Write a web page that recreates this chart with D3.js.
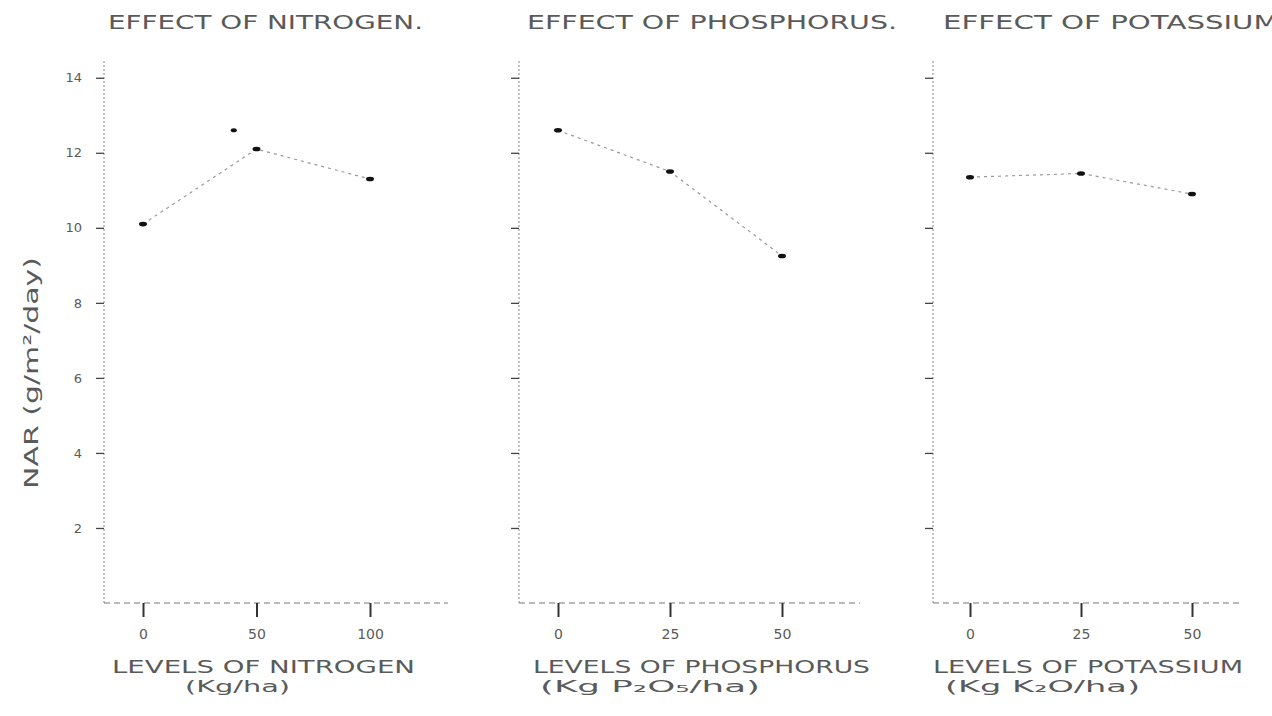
<!DOCTYPE html>
<html>
<head>
<meta charset="utf-8">
<script src="https://cdn.jsdelivr.net/npm/d3@7"></script>
<style>
  body { margin: 0; background: #fff; }
  svg { display: block; }
  text { font-family: "DejaVu Sans", sans-serif; fill: #5a5a5a; }
</style>
</head>
<body>
<div id="chart"></div>
<script>
// values
const nitrogenLevels = [0, 50, 100];
const nitrogenNAR = [10.1, 12.1, 11.3];
const nitrogenExtraLevel = [40];
const nitrogenExtraNAR = [12.6];
const phosphorusLevels = [0, 25, 50];
const phosphorusNAR = [12.6, 11.5, 9.25];
const potassiumLevels = [0, 25, 50];
const potassiumNAR = [11.35, 11.45, 10.9];
const yTicks = [2, 4, 6, 8, 10, 12, 14];
const panelTitles = ["EFFECT OF NITROGEN.", "EFFECT OF PHOSPHORUS.", "EFFECT OF POTASSIUM."];
const xTitles = ["LEVELS OF NITROGEN", "LEVELS OF PHOSPHORUS", "LEVELS OF POTASSIUM"];
const xUnits = ["(Kg/ha)", "(Kg P\u2082O\u2085/ha)", "(Kg K\u2082O/ha)"];

const width = 1272, height = 716;
const svg = d3.select("#chart").append("svg").attr("width", width).attr("height", height);

const y = d3.scaleLinear().domain([0, 14.5]).range([603, 59]);

// layout per panel: axis x, first/last level pixel, axis end, title box
const layout = [
  { axisX: 104, x0: 143, x1: 370, xEnd: 448, titleX: 108, titleW: 315, labelX: 112, labelW: 303, unitX: 185, unitW: 105, tickLabels: true },
  { axisX: 519, x0: 558, x1: 782, xEnd: 860, titleX: 527, titleW: 370, labelX: 533, labelW: 337, unitX: 540, unitW: 220, tickLabels: false },
  { axisX: 933, x0: 970, x1: 1192, xEnd: 1240, titleX: 943, titleW: 345, labelX: 933, labelW: 310, unitX: 945, unitW: 195, tickLabels: false }
];
const series = [
  { levels: nitrogenLevels, values: nitrogenNAR },
  { levels: phosphorusLevels, values: phosphorusNAR },
  { levels: potassiumLevels, values: potassiumNAR }
];

layout.forEach((L, i) => {
  const s = series[i];
  const x = d3.scalePoint().domain(s.levels).range([L.x0, L.x1]);
  const g = svg.append("g");

  // y axis
  const yAxis = g.append("g").attr("transform", `translate(${L.axisX},0)`)
    .call(d3.axisLeft(y).tickValues(yTicks).tickSize(8).tickPadding(14)
      .tickFormat(L.tickLabels ? d3.format("d") : () => ""));
  yAxis.select(".domain").attr("stroke", "#888").attr("stroke-dasharray", "2,2").attr("d", `M0,${y(0)}V${y.range()[1]}`);
  yAxis.selectAll(".tick line").attr("stroke", "#444").attr("stroke-width", 1.3);
  yAxis.selectAll(".tick text").style("font-size", "13px").style("fill", "#5a5a5a");

  // x axis
  const xAxis = g.append("g").attr("transform", `translate(0,${y(0)})`)
    .call(d3.axisBottom(x).tickSize(14).tickPadding(12));
  xAxis.select(".domain").attr("stroke", "#777").attr("stroke-dasharray", "6,4").attr("d", `M${L.axisX},0H${L.xEnd}`);
  xAxis.selectAll(".tick line").attr("stroke", "#333").attr("stroke-width", 2);
  xAxis.selectAll(".tick text").style("font-size", "14px").style("fill", "#5a5a5a");

  // data line and markers
  const line = d3.line().x((d, j) => x(s.levels[j])).y(d => y(d));
  g.append("path").datum(s.values).attr("d", line)
    .attr("fill", "none").attr("stroke", "#999").attr("stroke-width", 1.2).attr("stroke-dasharray", "3,4");
  g.selectAll(".pt").data(s.values).join("ellipse")
    .attr("cx", (d, j) => x(s.levels[j])).attr("cy", d => y(d))
    .attr("rx", 4).attr("ry", 2.3).attr("fill", "#111");

  if (i === 0) {
    const xl = d3.scaleLinear().domain([0, 100]).range([L.x0, L.x1]);
    g.selectAll(".extra").data(nitrogenExtraNAR).join("ellipse")
      .attr("cx", (d, j) => xl(nitrogenExtraLevel[j])).attr("cy", d => y(d))
      .attr("rx", 3).attr("ry", 2).attr("fill", "#111");
  }

  // titles
  g.append("text").attr("x", L.titleX).attr("y", 29)
    .attr("textLength", L.titleW).attr("lengthAdjust", "spacingAndGlyphs")
    .style("font-size", "19px").text(panelTitles[i]);
  g.append("text").attr("x", L.labelX).attr("y", 673)
    .attr("textLength", L.labelW).attr("lengthAdjust", "spacingAndGlyphs")
    .style("font-size", "17px").text(xTitles[i]);
  g.append("text").attr("x", L.unitX).attr("y", 692)
    .attr("textLength", L.unitW).attr("lengthAdjust", "spacingAndGlyphs")
    .style("font-size", "16px").text(xUnits[i]);
});

// y axis title
svg.append("text").attr("transform", "translate(38,373) rotate(-90)")
  .attr("text-anchor", "middle").attr("textLength", 232).attr("lengthAdjust", "spacingAndGlyphs")
  .style("font-size", "20px").text("NAR (g/m\u00B2/day)");
</script>
</body>
</html>
